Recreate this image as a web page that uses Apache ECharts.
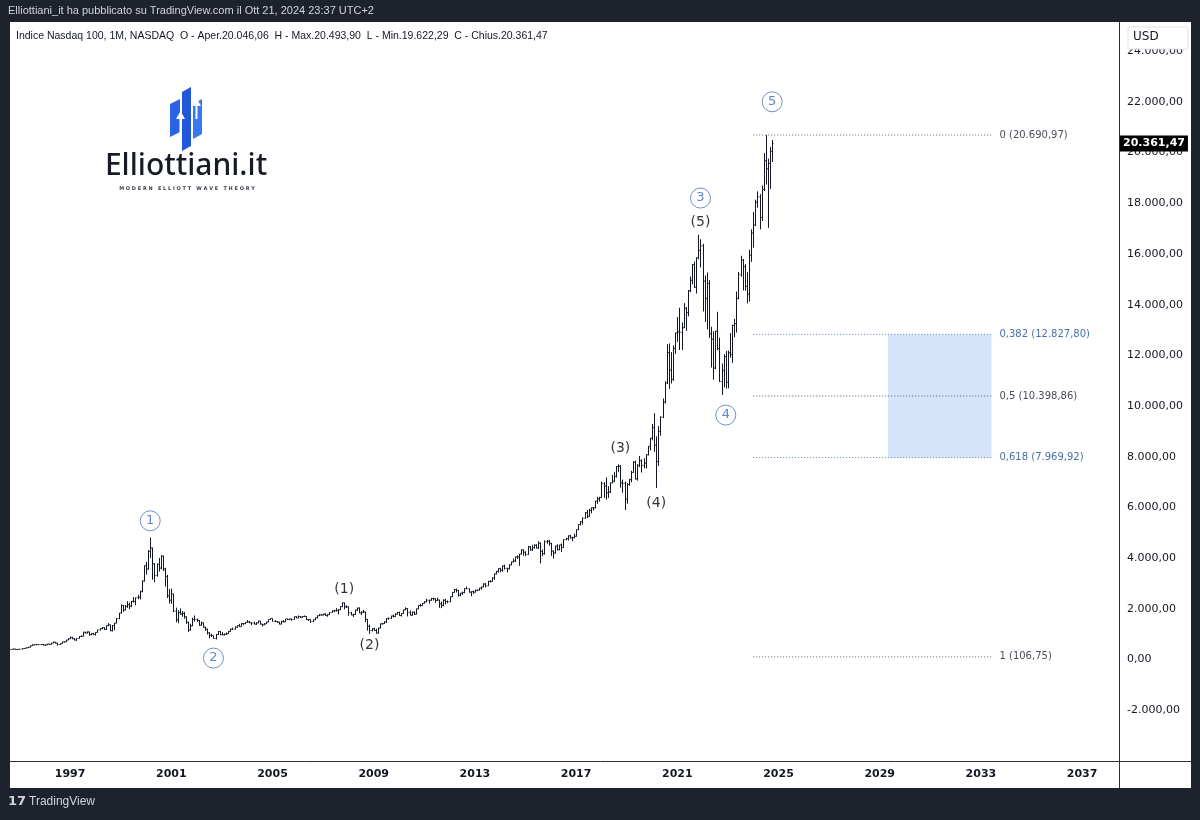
<!DOCTYPE html>
<html>
<head>
<meta charset="utf-8">
<title>Indice Nasdaq 100 - Elliottiani.it</title>
<script src="https://cdn.jsdelivr.net/npm/echarts@6/dist/echarts.min.js"></script>
<style>
  html, body { margin: 0; padding: 0; background: #1e222d; }
  #chart { width: 1200px; height: 820px; }
</style>
</head>
<body>
<div id="chart"></div>
<script>
// monthly bars, first one is Sep 1994; open of each bar = previous close
const firstMonth = [1994, 9];
const monthCount = 526;          // visible months on the time scale (to mid 2038)
const firstOpen = 400;

const closes = [
  405, 420, 398, 404,                                                            // 1994
  412, 432, 446, 472, 490, 546, 580, 586, 594, 590, 600, 577,                     // 1995
  580, 610, 600, 650, 690, 650, 590, 630, 700, 702, 772, 821,                     // 1996
  880, 820, 770, 830, 910, 920, 1080, 1050, 1090, 990, 1020, 990,                 // 1997
  1070, 1170, 1220, 1260, 1190, 1340, 1370, 1140, 1345, 1440, 1620, 1836,         // 1998
  2130, 1960, 2105, 2170, 2115, 2300, 2290, 2440, 2460, 2700, 3100, 3708,         // 1999
  3570, 4270, 4400, 3780, 3320, 3760, 3610, 4080, 3570, 3280, 2510, 2341,         // 2000
  2590, 1910, 1570, 1860, 1800, 1830, 1690, 1470, 1170, 1330, 1590, 1577,         // 2001
  1550, 1360, 1450, 1280, 1210, 1050, 960, 940, 830, 990, 1110, 984,              // 2002
  980, 1000, 1020, 1110, 1200, 1200, 1280, 1340, 1300, 1420, 1420, 1468,          // 2003
  1490, 1450, 1440, 1400, 1450, 1520, 1400, 1370, 1410, 1480, 1580, 1621,         // 2004
  1510, 1500, 1480, 1400, 1500, 1490, 1600, 1580, 1600, 1580, 1690, 1645,         // 2005
  1700, 1670, 1700, 1700, 1580, 1580, 1500, 1570, 1650, 1730, 1760, 1757,         // 2006
  1790, 1740, 1770, 1860, 1920, 1930, 1930, 1970, 2090, 2240, 2080, 2085,         // 2007
  1840, 1760, 1780, 1950, 2030, 1840, 1870, 1880, 1590, 1310, 1150, 1212,         // 2008
  1150, 1040, 1240, 1410, 1420, 1480, 1620, 1630, 1720, 1700, 1790, 1860,         // 2009
  1740, 1820, 1960, 2010, 1860, 1750, 1870, 1790, 2000, 2130, 2130, 2218,         // 2010
  2280, 2340, 2340, 2410, 2400, 2330, 2350, 2200, 2140, 2340, 2290, 2278,         // 2011
  2480, 2650, 2760, 2730, 2540, 2620, 2640, 2800, 2800, 2660, 2680, 2661,         // 2012
  2730, 2740, 2820, 2870, 2980, 2910, 3090, 3080, 3220, 3380, 3480, 3592,         // 2013
  3520, 3690, 3600, 3580, 3740, 3850, 3890, 4050, 4050, 4160, 4330, 4236,         // 2014
  4150, 4450, 4330, 4410, 4510, 4400, 4590, 4270, 4180, 4650, 4670, 4593,         // 2015
  4280, 4200, 4480, 4340, 4520, 4420, 4730, 4770, 4880, 4800, 4810, 4864,         // 2016
  5120, 5330, 5440, 5580, 5790, 5650, 5880, 5990, 5980, 6250, 6340, 6396,         // 2017
  6950, 6850, 6580, 6610, 6970, 7040, 7230, 7620, 7630, 6970, 6950, 6330,         // 2018
  6910, 7100, 7380, 7780, 7130, 7670, 7850, 7660, 7750, 8080, 8410, 8733,         // 2019
  9150, 8460, 7810, 9000, 9560, 10160, 10910, 12110, 11420, 11050, 12270, 12888,  // 2020
  12930, 12910, 13090, 13860, 13690, 14550, 14960, 15580, 14690, 15850, 16140, 16320, // 2021
  14930, 14240, 14840, 12850, 12640, 11500, 12950, 12270, 10970, 11410, 11950, 10940, // 2022
  12100, 12040, 13180, 13250, 14250, 15180, 15760, 15500, 14720, 14410, 15950, 16826, // 2023
  17140, 18040, 18250, 17440, 18540, 19680, 19360, 19570, 20046.06, 20361.47      // 2024
];

const highs = [
  412, 425, 422, 408,
  418, 436, 452, 475, 498, 550, 600, 592, 610, 604, 615, 612,
  595, 622, 625, 655, 705, 695, 660, 640, 705, 720, 780, 848,
  905, 895, 845, 838, 925, 955, 1095, 1100, 1110, 1110, 1040, 1055,
  1080, 1180, 1235, 1280, 1270, 1345, 1440, 1380, 1360, 1445, 1640, 1840,
  2180, 2150, 2150, 2300, 2250, 2310, 2470, 2450, 2560, 2710, 3120, 3710,
  3850, 4320, 4816, 4420, 3800, 3790, 4010, 4120, 4100, 3620, 3340, 2780,
  2800, 2600, 2050, 1950, 2020, 1910, 1880, 1700, 1500, 1420, 1650, 1740,
  1620, 1560, 1500, 1460, 1290, 1215, 1080, 1020, 955, 1010, 1130, 1120,
  1090, 1030, 1070, 1125, 1220, 1260, 1310, 1350, 1410, 1440, 1440, 1475,
  1560, 1520, 1470, 1490, 1470, 1530, 1520, 1410, 1440, 1490, 1590, 1630,
  1625, 1560, 1520, 1490, 1530, 1560, 1610, 1615, 1620, 1610, 1700, 1710,
  1740, 1710, 1720, 1740, 1710, 1600, 1580, 1580, 1660, 1740, 1795, 1790,
  1810, 1830, 1790, 1870, 1940, 1960, 2030, 1990, 2100, 2245, 2245, 2140,
  2090, 1880, 1810, 1970, 2050, 2060, 1900, 1960, 1890, 1600, 1380, 1240,
  1260, 1220, 1260, 1420, 1450, 1510, 1640, 1660, 1730, 1780, 1830, 1880,
  1890, 1830, 1965, 2060, 2030, 1940, 1890, 1900, 2010, 2140, 2200, 2230,
  2300, 2400, 2360, 2430, 2440, 2410, 2440, 2360, 2290, 2380, 2400, 2330,
  2490, 2660, 2790, 2800, 2740, 2630, 2680, 2810, 2880, 2800, 2690, 2720,
  2760, 2760, 2830, 2880, 3010, 3020, 3100, 3130, 3240, 3390, 3500, 3600,
  3620, 3710, 3740, 3620, 3750, 3860, 3990, 4060, 4110, 4170, 4340, 4345,
  4270, 4480, 4480, 4530, 4550, 4550, 4670, 4620, 4340, 4700, 4720, 4720,
  4600, 4300, 4490, 4550, 4530, 4580, 4740, 4800, 4900, 4920, 4850, 4970,
  5130, 5340, 5460, 5600, 5820, 5900, 5950, 6000, 6010, 6260, 6420, 6420,
  7020, 7000, 7190, 6840, 6980, 7280, 7410, 7630, 7700, 7670, 7100, 7020,
  6960, 7130, 7450, 7830, 7850, 7700, 8030, 7900, 7940, 8100, 8420, 8740,
  9290, 9720, 8810, 9210, 9600, 10300, 10980, 12440, 12470, 12130, 12390, 12890,
  13510, 13880, 13300, 14060, 13900, 14580, 15110, 15600, 15700, 15860, 16760, 16580,
  16400, 15150, 15270, 14970, 13130, 12950, 12970, 13720, 12700, 11680, 12050, 12170,
  12190, 12880, 13210, 13440, 14520, 15290, 15930, 15800, 15600, 15280, 16170, 16970,
  17660, 18140, 18470, 18360, 18700, 19980, 20690.97, 19760, 20220, 20493.90
];

const lows = [
  396, 398, 390, 388,
  396, 408, 428, 440, 465, 488, 540, 560, 574, 570, 582, 560,
  548, 575, 585, 595, 645, 635, 555, 585, 625, 670, 698, 768,
  815, 810, 765, 740, 825, 890, 915, 1030, 1035, 935, 955, 975,
  955, 1060, 1150, 1200, 1170, 1175, 1320, 1120, 1110, 1160, 1430, 1590,
  1820, 1880, 1940, 2040, 1990, 2070, 2250, 2140, 2380, 2370, 2650, 3080,
  3350, 3550, 4000, 3150, 3050, 3270, 3470, 3560, 3490, 2880, 2430, 2210,
  2200, 1880, 1470, 1430, 1770, 1690, 1610, 1410, 1090, 1140, 1320, 1500,
  1480, 1330, 1340, 1260, 1130, 990, 840, 890, 820, 795, 970, 965,
  960, 950, 970, 1010, 1100, 1180, 1195, 1260, 1290, 1300, 1360, 1400,
  1460, 1440, 1360, 1390, 1370, 1430, 1380, 1305, 1360, 1400, 1475, 1570,
  1500, 1480, 1450, 1390, 1390, 1470, 1480, 1560, 1560, 1530, 1575, 1630,
  1630, 1640, 1650, 1680, 1560, 1520, 1450, 1480, 1560, 1620, 1720, 1740,
  1740, 1730, 1690, 1760, 1850, 1880, 1900, 1780, 1950, 2070, 1980, 2030,
  1730, 1750, 1680, 1770, 1920, 1830, 1760, 1840, 1480, 1140, 1018, 1110,
  1140, 1030, 1030, 1230, 1380, 1410, 1450, 1570, 1600, 1660, 1690, 1780,
  1730, 1700, 1810, 1950, 1700, 1740, 1730, 1760, 1780, 1990, 2090, 2125,
  2210, 2260, 2210, 2320, 2330, 2240, 2320, 2040, 2030, 2100, 2170, 2220,
  2270, 2470, 2640, 2650, 2480, 2500, 2550, 2620, 2770, 2640, 2500, 2590,
  2650, 2700, 2730, 2760, 2860, 2850, 2900, 3040, 3070, 3150, 3360, 3430,
  3450, 3470, 3550, 3440, 3560, 3720, 3840, 3850, 3970, 3700, 4150, 4100,
  4080, 4130, 4300, 4290, 4380, 4390, 4370, 3790, 4080, 4140, 4570, 4490,
  4090, 3980, 4180, 4300, 4310, 4240, 4410, 4710, 4700, 4770, 4670, 4780,
  4850, 5110, 5290, 5330, 5560, 5580, 5640, 5770, 5880, 5970, 6140, 6230,
  6380, 6380, 6310, 6380, 6570, 6960, 7000, 7180, 7390, 6780, 6580, 5900,
  6150, 6860, 6990, 7370, 7100, 7060, 7590, 7380, 7550, 7540, 8050, 8250,
  8650, 8200, 6771, 7640, 8830, 9530, 10100, 10870, 10680, 10890, 11000, 12060,
  12530, 12210, 12210, 13080, 12970, 13540, 14490, 14800, 14660, 14440, 15790, 15470,
  13730, 13320, 13020, 12690, 11520, 11040, 11460, 12200, 10950, 10440, 10740, 10690,
  10700, 11910, 11700, 12720, 12900, 14210, 15100, 14560, 14550, 14050, 14120, 15690,
  16250, 17100, 17820, 16970, 17300, 18480, 18740, 17030, 18570, 19622.29
];

// Elliott wave labels: [month, price level of label, text]
const waveCircled = [
  ['2000-03', 5475, '1'], ['2002-09', 60, '2'], ['2021-12', 18205, '3'],
  ['2022-12', 9645, '4'], ['2024-10', 22003, '5']
];
const waveMinor = [
  ['2007-11', 2781, '(1)'], ['2008-11', 572, '(2)'], ['2018-10', 8343, '(3)'],
  ['2020-03', 6174, '(4)'], ['2021-12', 17258, '(5)']
];

// Fibonacci retracement
const fibRatios = ['0', '0,382', '0,5', '0,618', '1'];
const fibPrices = [20690.97, 12827.80, 10398.86, 7969.92, 106.75];
const fibColors = ['#4a4e57', '#4a6ea8', '#4a4e57', '#4a6ea8', '#4a4e57'];
const fibStart = '2024-01';
const fibEnd = '2033-06';
const zoneStart = '2029-05';

const lastPrice = 20361.47;

const FONT = 'DejaVu Sans';
const SANS = '"Liberation Sans", sans-serif';
const INK = '#131722';

// tick labels on the time scale
const months = [];
for (let i = 0; i < monthCount; i++) {
  const k = firstMonth[1] - 1 + i;
  months.push((firstMonth[0] + Math.floor(k / 12)) + '-' + String(k % 12 + 1).padStart(2, '0'));
}

const bars = closes.map((c, i) => [i, i ? closes[i - 1] : firstOpen, c, lows[i], highs[i]]);

// 20.361,47 style numbers
function fmt(v) {
  const parts = Math.abs(v).toFixed(2).split('.');
  return (v < 0 ? '-' : '') + parts[0].replace(/\B(?=(\d{3})+(?!\d))/g, '.') + ',' + parts[1];
}

const chart = echarts.init(document.getElementById('chart'));

const fibSeries = fibPrices.map((p, i) => ({
  type: 'line',
  data: [[fibStart, p], [fibEnd, p]],
  symbol: 'none',
  silent: true,
  z: 3,
  lineStyle: { color: fibColors[i], width: 1, type: [1, 2], opacity: 0.9 },
  endLabel: {
    show: true,
    distance: 8,
    formatter: fibRatios[i] + ' (' + fmt(p) + ')',
    color: fibColors[i],
    fontFamily: FONT,
    fontSize: 10
  },
  markArea: i === 1 ? {
    silent: true,
    itemStyle: { color: '#d3e4fb' },
    data: [[{ xAxis: zoneStart, yAxis: fibPrices[1] }, { xAxis: fibEnd, yAxis: fibPrices[3] }]]
  } : undefined
}));

const option = {
  animation: false,
  backgroundColor: '#1e222d',
  grid: { left: 10, right: 81, top: 22, bottom: 59 },
  xAxis: {
    type: 'category',
    data: months,
    boundaryGap: true,
    axisLine: { show: false },
    axisTick: { show: false },
    splitLine: { show: false },
    axisLabel: {
      color: INK,
      fontFamily: FONT,
      fontSize: 11,
      fontWeight: 'bold',
      margin: 8,
      interval: (idx, val) => val.endsWith('-01') && (parseInt(val, 10) - 1997) % 4 === 0,
      formatter: val => val.slice(0, 4)
    }
  },
  yAxis: {
    type: 'value',
    position: 'right',
    min: -4000,
    max: 25150,
    interval: 2000,
    axisLine: { show: false },
    axisTick: { show: false },
    splitLine: { show: false },
    axisLabel: {
      color: INK,
      fontFamily: FONT,
      fontSize: 11,
      margin: 8,
      showMinLabel: false,
      showMaxLabel: false,
      formatter: fmt
    }
  },
  graphic: [
    // panel and separators
    { type: 'rect', z: -10, shape: { x: 10, y: 22, width: 1181, height: 766 }, style: { fill: '#ffffff' }, silent: true },
    { type: 'line', z: 10, shape: { x1: 1119.5, y1: 22, x2: 1119.5, y2: 788 }, style: { stroke: '#2a2e39', lineWidth: 1 } },
    { type: 'line', z: 10, shape: { x1: 10, y1: 761.5, x2: 1191, y2: 761.5 }, style: { stroke: '#2a2e39', lineWidth: 1 } },
    // header
    { type: 'text', left: 8, top: 5, style: { text: 'Elliottiani_it ha pubblicato su TradingView.com il Ott 21, 2024 23:37 UTC+2', fill: '#d1d4dc', font: '11px ' + SANS } },
    { type: 'text', left: 16, top: 31, style: { text: 'Indice Nasdaq 100, 1M, NASDAQ  O - Aper.20.046,06  H - Max.20.493,90  L - Min.19.622,29  C - Chius.20.361,47', fill: INK, font: '10.5px ' + SANS } },
    // currency box
    { type: 'rect', z: 20, shape: { x: 1128, y: 27, width: 60, height: 22, r: 2 }, style: { fill: '#ffffff', stroke: '#e0e3eb', lineWidth: 1 } },
    { type: 'text', z: 21, left: 1133, top: 31, style: { text: 'USD', fill: INK, font: '12px ' + FONT } },
    // footer
    { type: 'text', left: 8, top: 795, style: { text: '17', fill: '#d1d4dc', font: 'bold 13px ' + FONT } },
    { type: 'text', left: 29, top: 796, style: { text: 'TradingView', fill: '#d1d4dc', font: '12px ' + SANS } },
    // Elliottiani.it logo
    {
      type: 'group', silent: true, children: [
        { type: 'polygon', shape: { points: [[170, 104], [180, 99], [180, 132], [170, 137]] }, style: { fill: '#2a63e4' } },
        { type: 'polygon', shape: { points: [[182, 92], [191, 87], [191, 146], [182, 151]] }, style: { fill: '#1f58d8' } },
        { type: 'polygon', shape: { points: [[193, 104], [202, 99], [202, 134], [193, 139]] }, style: { fill: '#3a78ee' } },
        { type: 'polygon', shape: { points: [[176, 119], [180.5, 111], [185, 119]] }, style: { fill: '#ffffff' } },
        { type: 'rect', shape: { x: 179.5, y: 118, width: 2, height: 16 }, style: { fill: '#ffffff' } },
        { type: 'polygon', shape: { points: [[192, 106], [196.5, 98], [201, 106]] }, style: { fill: '#ffffff' } },
        { type: 'rect', shape: { x: 195.5, y: 105, width: 2, height: 14 }, style: { fill: '#ffffff' } },
        { type: 'text', x: 186, y: 166, style: { text: 'Elliottiani.it', fill: '#161b26', font: '500 30px "Noto Sans"', align: 'center', verticalAlign: 'middle' } },
        { type: 'text', x: 187, y: 189, style: { text: 'M O D E R N   E L L I O T T   W A V E   T H E O R Y', fill: '#3a3f4a', font: 'bold 5px ' + FONT, align: 'center', verticalAlign: 'middle' } }
      ]
    }
  ],
  series: [
    {
      type: 'custom',
      name: 'NDX',
      data: bars,
      encode: { x: 0, y: [1, 2, 3, 4] },
      clip: true,
      z: 4,
      renderItem: function (params, api) {
        const idx = api.value(0);
        const o = api.coord([idx, api.value(1)]);
        const c = api.coord([idx, api.value(2)]);
        const l = api.coord([idx, api.value(3)]);
        const h = api.coord([idx, api.value(4)]);
        const half = api.size([1, 0])[0] * 0.5;
        const x = Math.round(o[0]) + 0.5;
        const st = { stroke: INK, lineWidth: 1 };
        return {
          type: 'group',
          children: [
            { type: 'line', shape: { x1: x, y1: h[1], x2: x, y2: l[1] }, style: st },
            { type: 'line', shape: { x1: x - half, y1: o[1], x2: x, y2: o[1] }, style: st },
            { type: 'line', shape: { x1: x, y1: c[1], x2: x + half, y2: c[1] }, style: st }
          ]
        };
      }
    },
    // last price tag on the price scale
    {
      type: 'line',
      data: [[fibStart, lastPrice]],
      symbol: 'none',
      silent: true,
      z: 30,
      lineStyle: { width: 0 },
      markLine: {
        silent: true,
        symbol: 'none',
        z: 30,
        lineStyle: { color: 'rgba(0,0,0,0)', width: 1 },
        label: {
          show: true,
          position: 'end',
          distance: 1,
          formatter: () => fmt(lastPrice),
          backgroundColor: '#000000',
          color: '#ffffff',
          fontFamily: FONT,
          fontWeight: 'bold',
          fontSize: 11,
          padding: [3, 3, 2, 3]
        },
        data: [{ yAxis: lastPrice }]
      }
    },
    ...fibSeries,
    {
      type: 'scatter',
      data: waveCircled,
      symbol: 'circle',
      symbolSize: 20,
      silent: true,
      z: 6,
      itemStyle: { color: 'rgba(255,255,255,0)', borderColor: '#4d74c0', borderWidth: 1 },
      label: {
        show: true,
        position: 'inside',
        formatter: p => p.data[2],
        color: '#3c66bb',
        fontFamily: FONT,
        fontSize: 13
      }
    },
    {
      type: 'scatter',
      data: waveMinor,
      symbol: 'circle',
      symbolSize: 18,
      silent: true,
      z: 6,
      itemStyle: { color: 'rgba(255,255,255,0)' },
      label: {
        show: true,
        position: 'inside',
        formatter: p => p.data[2],
        color: '#000000',
        fontFamily: FONT,
        fontSize: 14
      }
    }
  ]
};

chart.setOption(option);
</script>
</body>
</html>
